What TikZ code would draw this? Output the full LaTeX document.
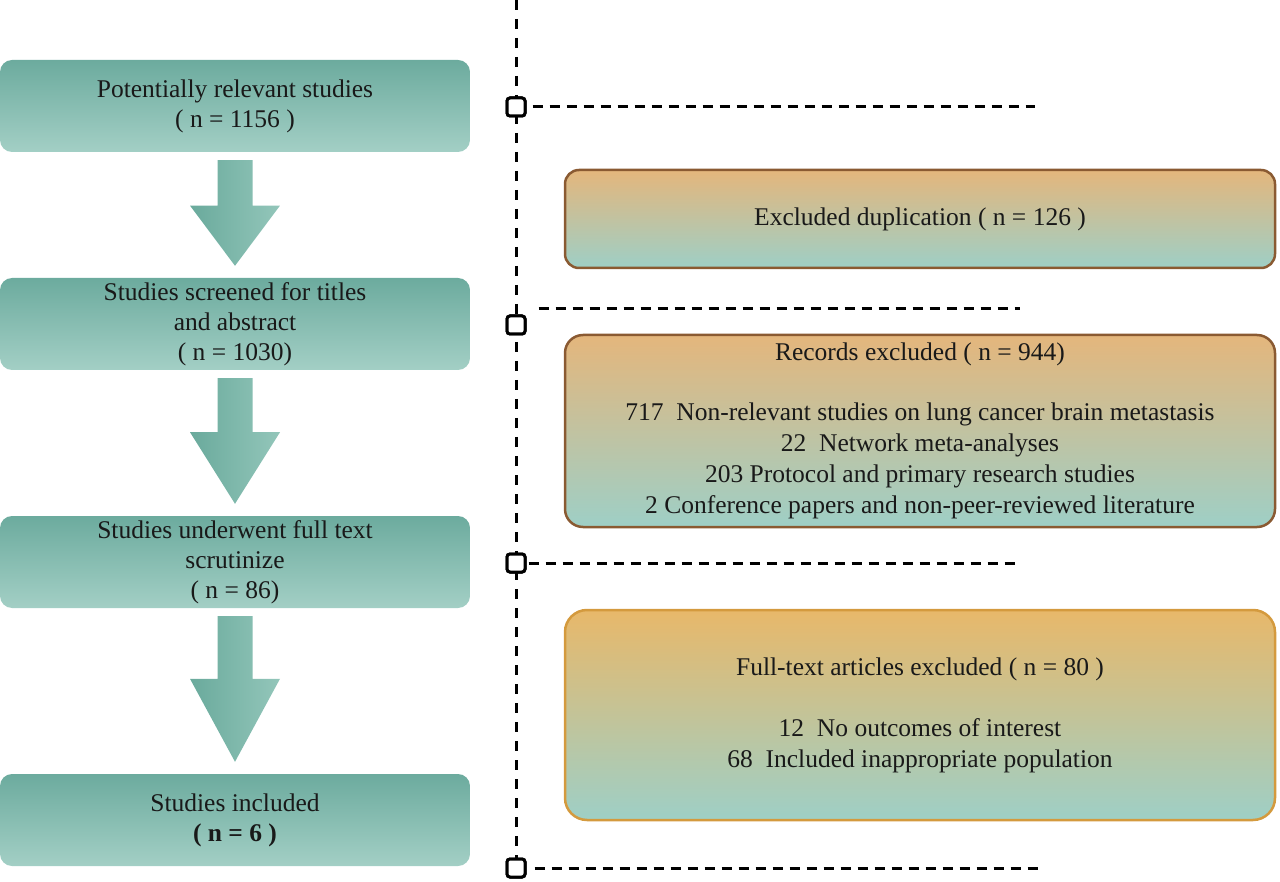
\documentclass[tikz,border=0pt]{standalone}
\usepackage{fontspec}
\setmainfont{Liberation Serif}
\usetikzlibrary{calc}
\definecolor{gTop}{HTML}{6CAB9E}
\definecolor{gBot}{HTML}{A3CFC5}
\definecolor{oTop}{HTML}{E4B67C}
\definecolor{oTopC}{HTML}{E8B86A}
\definecolor{tBot}{HTML}{9ECFC6}
\definecolor{brownB}{HTML}{8A5A32}
\definecolor{goldB}{HTML}{D49A3E}
\definecolor{arL}{HTML}{6AAA9C}
\definecolor{arR}{HTML}{93C6BA}
\begin{document}
\begin{tikzpicture}[x=1pt,y=-1pt,
  every node/.style={font=\fontsize{25.5}{30}\selectfont, text=black!90},
  lbox/.style={rounded corners=12pt, top color=gTop, bottom color=gBot, draw=none,
     minimum width=470pt, minimum height=92pt, align=center, inner sep=0pt},
  rbox/.style={rounded corners=18pt, top color=oTop, bottom color=tBot, draw=brownB,
     line width=2.5pt, minimum width=710pt, align=center, inner sep=0pt,
     font=\fontsize{25.5}{31}\selectfont},
  blockarrow/.style={left color=arL, right color=arR, draw=none},
  vdash/.style={line width=3pt, dash pattern=on 10pt off 9pt},
  hdash/.style={line width=3pt, dash pattern=on 10pt off 7pt},
  sq/.style={draw, line width=3pt, fill=white, rounded corners=3pt,
     minimum size=18pt, inner sep=0pt}]
\useasboundingbox (0,0) rectangle (1280,882);

% left boxes
\node[lbox] (b1) at (235,106) {Potentially relevant studies\\( n = 1156 )};
\node[lbox] (b2) at (235,324) {Studies screened for titles\\and abstract\\( n = 1030)};
\node[lbox] (b3) at (235,562) {Studies underwent full text\\scrutinize\\( n = 86)};
\node[lbox] (b4) at (235,820) {Studies included\\\textbf{( n = 6 )}};

% block arrows
\foreach \a/\b in {b1/b2, b2/b3, b3/b4}{
  \path let \p1=(\a.south), \p2=(\b.north) in
    coordinate (t) at (\x1, \y1-8pt)
    coordinate (k) at (\x1, \y2+12pt);
  \path let \p1=(t), \p2=(k) in
    \pgfextra{\pgfmathsetmacro{\hy}{\y1+0.43*(\y2-\y1)}}
    [blockarrow] (\x1-17.5pt,\y1) -- (\x1+17.5pt,\y1) -- (\x1+17.5pt,\hy pt)
    -- (\x1+45pt,\hy pt) -- (\x2,\y2) -- (\x1-45pt,\hy pt) -- (\x1-17.5pt,\hy pt) -- cycle;
}

% right boxes
\node[rbox, minimum height=98pt, rounded corners=14pt] (r1) at (920,219) {Excluded duplication ( n = 126 )};
\node[rbox, minimum height=192pt] (r2) at (920,431) {Records excluded ( n = 944)\\[29pt]
  717~ Non-relevant studies on lung cancer brain metastasis\\
  22~ Network meta-analyses\\
  203 Protocol and primary research studies\\
  2 Conference papers and non-peer-reviewed literature};
\node[rbox, minimum height=210pt, top color=oTopC, draw=goldB, rounded corners=22pt] (r3) at (920,715)
  {Full-text articles excluded ( n = 80 )\\[30pt]
  12~ No outcomes of interest\\
  68~ Included inappropriate population};

% dashed timeline
\coordinate (top) at (516,0);
\node[sq] (s1) at (516,107) {};
\node[sq] (s2) at (516,325) {};
\node[sq] (s3) at (516,563) {};
\node[sq] (s4) at (516,868) {};
\draw[vdash] (top) -- (s4.north);
\node[sq] at (s1) {};
\node[sq] at (s2) {};
\node[sq] at (s3) {};
\node[sq] at (s4) {};
\coordinate (e1) at (1035,107);
\coordinate (e2) at (1020,309);
\coordinate (e3) at (1020,563);
\coordinate (e4) at (1038,868);
\draw[hdash] ($(s1.east)+(6,0)$) -- (e1);
\draw[hdash] ($(s2.east)+(12,-16)$) -- (e2);
\draw[hdash] ($(s3.east)+(2,0)$) -- (e3);
\draw[hdash] ($(s4.east)+(8,0)$) -- (e4);
\end{tikzpicture}
\end{document}
